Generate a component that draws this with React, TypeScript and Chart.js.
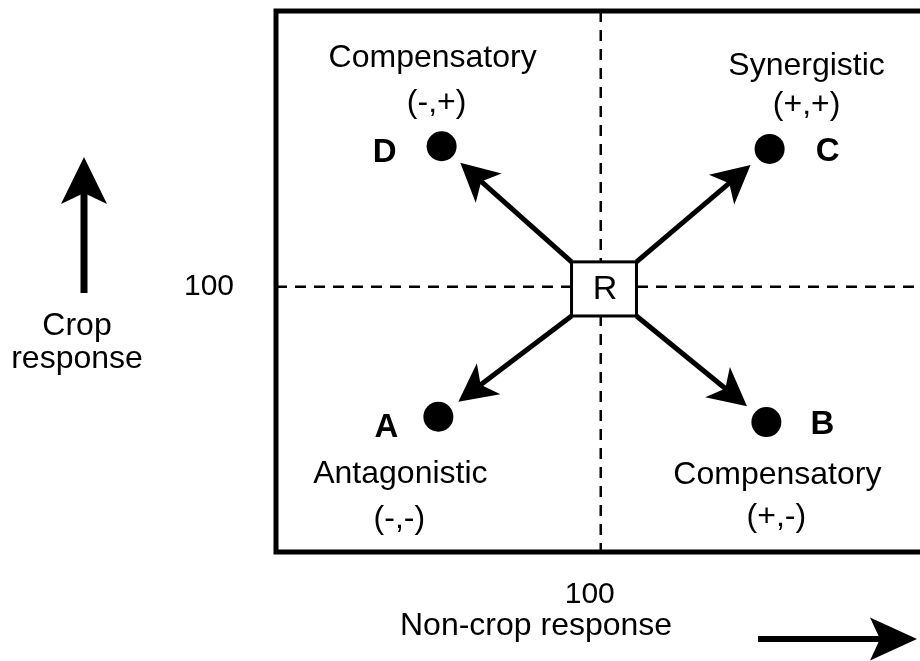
import React, { useEffect, useRef } from 'react';
import { Chart, registerables } from 'chart.js';

Chart.register(...registerables);

// ---- data ----
const pointLetters = ['A', 'B', 'C', 'D'];
const nonCropValues = [50, 151, 152, 51];
const cropValues = [51, 49, 152, 153];
const interactionTypes = ['Antagonistic', 'Compensatory', 'Synergistic', 'Compensatory'];
const signLabels = ['(-,-)', '(+,-)', '(+,+)', '(-,+)'];
const referenceLabel = 'R';
const referenceX = 100;
const referenceY = 100;
const referenceBoxX = [91, 111];
const referenceBoxY = [89, 109.4];
const xTicks = [100];
const yTicks = [100];
const xRange = [0, 202];
const yRange = [0, 204];
const xAxisTitle = 'Non-crop response';
const yAxisTitle = ['Crop', 'response'];

// ---- layout (pixel offsets relative to each point) ----
const labelLayout = [
  { letter: [-52, 11], title: [-38, 66], sign: [-39, 102] },
  { letter: [56, 3], title: [11, 62], sign: [10, 95] },
  { letter: [58, 3], title: [37, -74], sign: [37, -44] },
  { letter: [-57, 7], title: [-9, -79], sign: [-5, -43] },
];

const FONT = '"Liberation Sans", Arial, Helvetica, sans-serif';

function drawArrow(
  ctx: CanvasRenderingContext2D,
  x0: number, y0: number, x1: number, y1: number,
  headLen: number, halfW: number, notch: number, lw: number
) {
  const dx = x1 - x0, dy = y1 - y0;
  const L = Math.hypot(dx, dy);
  const ux = dx / L, uy = dy / L;
  const px = -uy, py = ux;
  const nx = x1 - ux * (headLen - notch), ny = y1 - uy * (headLen - notch);
  const bx = x1 - ux * headLen, by = y1 - uy * headLen;
  ctx.save();
  ctx.strokeStyle = '#000';
  ctx.fillStyle = '#000';
  ctx.lineWidth = lw;
  ctx.lineCap = 'butt';
  ctx.beginPath();
  ctx.moveTo(x0, y0);
  ctx.lineTo(nx + ux * 2, ny + uy * 2);
  ctx.stroke();
  ctx.beginPath();
  ctx.moveTo(x1, y1);
  ctx.lineTo(bx + px * halfW, by + py * halfW);
  ctx.lineTo(nx, ny);
  ctx.lineTo(bx - px * halfW, by - py * halfW);
  ctx.closePath();
  ctx.fill();
  ctx.restore();
}

const diagramPlugin = {
  id: 'diagram',
  beforeDatasetsDraw(chart: any) {
    const { ctx, chartArea } = chart;
    const xs = chart.scales.x, ys = chart.scales.y;
    const { left, right, top, bottom } = chartArea;
    ctx.save();
    ctx.strokeStyle = '#000';
    ctx.lineWidth = 2.5;
    ctx.setLineDash([11, 8]);
    const cx = xs.getPixelForValue(referenceX);
    const cy = ys.getPixelForValue(referenceY);
    ctx.beginPath();
    ctx.moveTo(cx, top);
    ctx.lineTo(cx, bottom + 3);
    ctx.moveTo(left, cy);
    ctx.lineTo(right, cy);
    ctx.stroke();
    ctx.setLineDash([]);
    ctx.lineWidth = 5;
    ctx.strokeRect(left, top, right - left, bottom - top);
    ctx.restore();
  },
  afterDatasetsDraw(chart: any) {
    const { ctx } = chart;
    const xs = chart.scales.x, ys = chart.scales.y;
    const meta = chart.getDatasetMeta(0);
    const bx0 = xs.getPixelForValue(referenceBoxX[0]);
    const bx1 = xs.getPixelForValue(referenceBoxX[1]);
    const by0 = ys.getPixelForValue(referenceBoxY[1]);
    const by1 = ys.getPixelForValue(referenceBoxY[0]);
    const corners = [
      [bx0, by1],
      [bx1, by1],
      [bx1, by0],
      [bx0, by0],
    ];
    ctx.save();
    meta.data.forEach((el: any, i: number) => {
      const [sx, sy] = corners[i];
      const dx = el.x - sx, dy = el.y - sy;
      const L = Math.hypot(dx, dy);
      const tx = el.x - (dx / L) * 25, ty = el.y - (dy / L) * 25;
      drawArrow(ctx, sx, sy, tx, ty, 38, 19.5, 10, 5);
    });
    ctx.fillStyle = '#fff';
    ctx.fillRect(bx0, by0, bx1 - bx0, by1 - by0);
    ctx.strokeStyle = '#000';
    ctx.lineWidth = 3;
    ctx.strokeRect(bx0, by0, bx1 - bx0, by1 - by0);
    ctx.fillStyle = '#000';
    ctx.font = `34px ${FONT}`;
    ctx.textAlign = 'center';
    ctx.textBaseline = 'middle';
    ctx.fillText(referenceLabel, (bx0 + bx1) / 2 + 1, (by0 + by1) / 2 + 1);

    meta.data.forEach((el: any, i: number) => {
      const lay = labelLayout[i];
      ctx.font = `bold 33px ${FONT}`;
      ctx.textBaseline = 'middle';
      ctx.fillText(pointLetters[i], el.x + lay.letter[0], el.y + lay.letter[1]);
      ctx.font = `32px ${FONT}`;
      ctx.textBaseline = 'alphabetic';
      ctx.fillText(interactionTypes[i], el.x + lay.title[0], el.y + lay.title[1]);
      ctx.textBaseline = 'middle';
      ctx.fillText(signLabels[i], el.x + lay.sign[0], el.y + lay.sign[1]);
    });

    ctx.font = `32px ${FONT}`;
    ctx.textBaseline = 'alphabetic';
    ctx.textAlign = 'center';
    ctx.fillText(yAxisTitle[0], 77, 335);
    ctx.fillText(yAxisTitle[1], 77, 368);
    ctx.textAlign = 'left';
    ctx.fillText(xAxisTitle, 400, 635);

    drawArrow(ctx, 84, 293, 84, 157, 47, 23, 11, 7);
    drawArrow(ctx, 758, 639, 917, 639, 47, 21.5, 10, 6);
    ctx.restore();
  },
};

export default function App() {
  const ref = useRef<HTMLCanvasElement | null>(null);
  useEffect(() => {
    if (!ref.current) return;
    const chart = new Chart(ref.current, {
      type: 'scatter',
      data: {
        datasets: [
          {
            label: 'Interactions',
            data: nonCropValues.map((x, i) => ({ x, y: cropValues[i] })),
            pointRadius: 15,
            pointHoverRadius: 15,
            pointBackgroundColor: '#000',
            pointBorderWidth: 0,
            showLine: false,
          },
        ],
      },
      options: {
        animation: false,
        responsive: false,
        devicePixelRatio: 1,
        events: [],
        layout: { autoPadding: false, padding: { left: 0, top: 11, right: 8, bottom: 0 } },
        plugins: {
          legend: { display: false },
          tooltip: { enabled: false },
          title: { display: false },
        },
        scales: {
          x: {
            type: 'linear',
            min: xRange[0],
            max: xRange[1],
            afterBuildTicks: (scale: any) => {
              scale.ticks = xTicks.map((v) => ({ value: v }));
            },
            afterFit: (scale: any) => {
              scale.height = 109;
              scale.paddingLeft = 0;
              scale.paddingRight = 0;
              scale.paddingTop = 0;
              scale.paddingBottom = 0;
            },
            grid: { display: false, drawTicks: false },
            border: { display: false },
            ticks: {
              padding: 25,
              labelOffset: -11,
              color: '#000',
              font: { family: FONT, size: 30 },
              autoSkip: false,
              maxRotation: 0,
            },
          },
          y: {
            type: 'linear',
            min: yRange[0],
            max: yRange[1],
            afterBuildTicks: (scale: any) => {
              scale.ticks = yTicks.map((v) => ({ value: v }));
            },
            afterFit: (scale: any) => {
              scale.width = 276;
              scale.paddingLeft = 0;
              scale.paddingRight = 0;
              scale.paddingTop = 0;
              scale.paddingBottom = 0;
            },
            grid: { display: false, drawTicks: false },
            border: { display: false },
            ticks: {
              padding: 42,
              color: '#000',
              font: { family: FONT, size: 30 },
              autoSkip: false,
            },
          },
        },
      },
      plugins: [diagramPlugin],
    } as any);
    return () => chart.destroy();
  }, []);

  return (
    <div
      style={{
        position: 'absolute',
        left: 0,
        top: 0,
        width: 920,
        height: 661,
        overflow: 'hidden',
        background: '#fff',
      }}
    >
      <canvas ref={ref} width={940} height={661} style={{ display: 'block', width: 940, height: 661 }} />
    </div>
  );
}
